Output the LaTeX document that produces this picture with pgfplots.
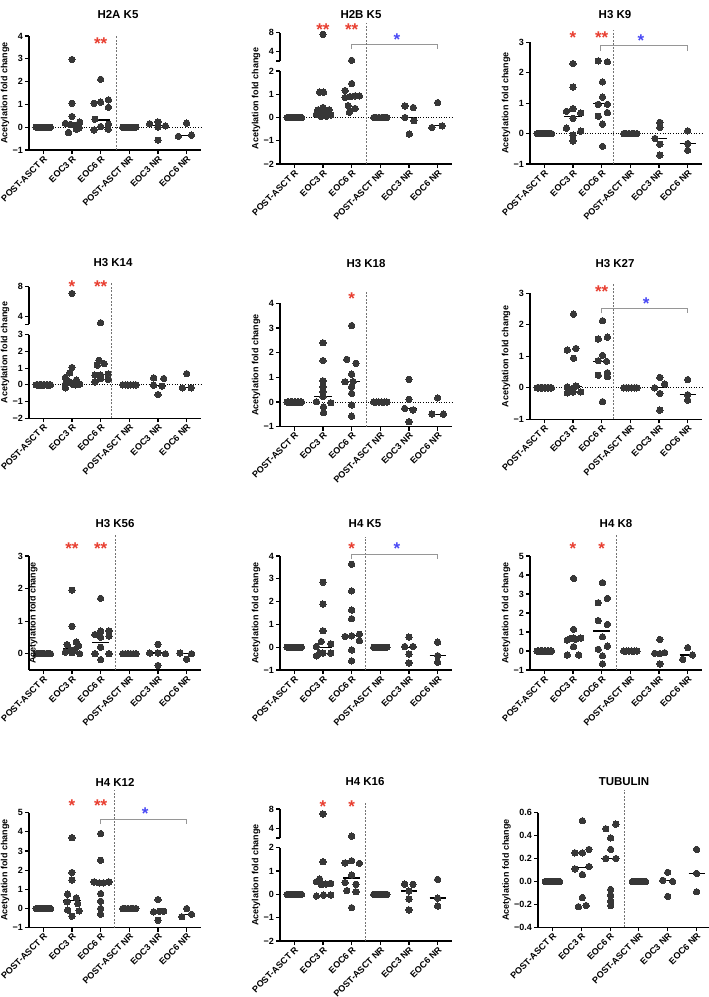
\documentclass[border=0pt]{standalone}
\usepackage{pgfplots}
\pgfplotsset{compat=1.18}
\usepackage{fontspec}
\setmainfont{Liberation Sans}
\definecolor{dotc}{RGB}{55,55,55}
\definecolor{sred}{RGB}{232,62,48}
\definecolor{sblue}{RGB}{72,72,245}
\definecolor{brk}{RGB}{150,150,150}
\newcommand{\fs}[1]{\fontsize{#1}{#1}\selectfont}
\tikzset{
  rs/.style={text=sred, font=\bfseries\fs{17}, inner sep=0pt, yshift=-4pt},
  bs/.style={text=sblue, font=\bfseries\fs{17}, inner sep=0pt, yshift=-4pt},
}
\pgfplotsset{
  panel/.style={
    scale only axis, width=172pt, xmin=-0.5, xmax=5.5, clip=false,
    axis lines=left, axis line style={-, line width=1.2pt},
    tick align=outside, major tick length=4pt,
    tick style={black, line width=1.1pt},
    xtick={0,1,2,3,4,5},
    xticklabels={POST-ASCT R,EOC3 R,EOC6 R,POST-ASCT NR,EOC3 NR,EOC6 NR},
    xticklabel style={rotate=45, anchor=north east, font=\bfseries\fs{9}, inner sep=0.5pt},
    yticklabel style={font=\bfseries\fs{9}, inner sep=2pt},
    ylabel={Acetylation fold change},
    ylabel style={font=\bfseries\fs{9}, inner sep=1pt},
  },
  toppanel/.style={
    scale only axis, width=172pt, xmin=-0.5, xmax=5.5, clip=false,
    hide x axis, axis y line=left, axis line style={-, line width=1.2pt},
    tick align=outside, major tick length=4pt, tick style={black, line width=1.1pt},
    yticklabel style={font=\bfseries\fs{9}, inner sep=2pt},
    extra y tick labels={},
  },
  dots/.style={only marks, mark=*, mark size=3.2pt, mark options={fill=dotc, draw=dotc, line width=0pt}},
  med/.style={black, line width=1.2pt, no marks},
  zl/.style={black, line width=0.8pt, dash pattern=on 1pt off 1.6pt, no marks},
  vl/.style={gray!90!black, line width=0.7pt, dash pattern=on 2pt off 1.5pt, no marks},
  brack/.style={brk, line width=1pt, no marks},
}
\newcommand{\postR}{\addplot[dots] coordinates {(-0.25,0)(-0.2,0)(-0.15,0)(-0.1,0)(-0.05,0)(0,0)(0.05,0)(0.1,0)(0.15,0)(0.2,0)(0.25,0)};}
\newcommand{\postNR}{\addplot[dots] coordinates {(2.77,0)(2.86,0)(2.95,0)(3.05,0)(3.14,0)(3.23,0)};}
\begin{document}
\begin{tikzpicture}
\useasboundingbox (0,0) rectangle (709pt,-997pt);
% titles
\begin{scope}[every node/.style={font=\bfseries\fs{11.5}}]
\node at (118pt,-15pt) {H2A K5};
\node at (361pt,-15pt) {H2B K5};
\node at (615pt,-15pt) {H3 K9};
\node at (113pt,-263pt) {H3 K14};
\node at (366pt,-264pt) {H3 K18};
\node at (615pt,-264pt) {H3 K27};
\node at (115pt,-524pt) {H3 K56};
\node at (365pt,-524pt) {H4 K5};
\node at (616pt,-524pt) {H4 K8};
\node at (115pt,-782pt) {H4 K12};
\node at (365pt,-782pt) {H4 K16};
\node at (624pt,-782pt) {TUBULIN};
\end{scope}

% ---------- P1 H2A K5
\begin{axis}[panel, at={(29pt,-150pt)}, anchor=south west, height=114pt, ymin=-1, ymax=4,
  ytick={-1,0,1,2,3,4}, yticklabels={−1,0,1,2,3,4}]
\addplot[zl] coordinates {(-0.5,0)(5.5,0)};
\addplot[vl] coordinates {(2.56,-1)(2.56,4.05)};
\postR \postNR
\addplot[dots] coordinates {(1,2.97)(1,1.05)(1,0.47)(0.77,0.17)(1.27,0.22)(0.95,0.12)(1.1,0.08)(0.88,-0.23)(1.15,-0.09)(1.25,-0.03)};
\addplot[dots] coordinates {(2,2.1)(1.77,1.05)(2,1.1)(2.27,1.2)(2.27,0.87)(1.8,0.35)(2.27,0.13)(2,0.03)(2.26,-0.09)(1.77,-0.12)};
\addplot[dots] coordinates {(3.71,0.15)(4,0.23)(4.26,0.06)(4,0.0)(4,-0.57)};
\addplot[dots] coordinates {(5,0.18)(4.71,-0.4)(5.17,-0.35)};
\addplot[med] coordinates {(0.7,0.13)(1.32,0.13)};
\addplot[med] coordinates {(1.7,0.32)(2.32,0.32)};
\addplot[med] coordinates {(3.72,0.06)(4.28,0.06)};
\addplot[med] coordinates {(4.72,-0.35)(5.28,-0.35)};
\node[rs] at (axis cs:2,3.85) {**};
\end{axis}

% ---------- P2 H2B K5
\begin{axis}[toppanel, at={(280pt,-61pt)}, anchor=south west, height=28.3pt, ymin=2, ymax=8,
  ytick={4,8}, yticklabels={4,8}, extra y ticks={2}]
\addplot[dots] coordinates {(1,7.65)};
\addplot[dots] coordinates {(2,2.15)};
\addplot[brack] coordinates {(2,4.5)(2,5.6)(5,5.6)(5,4.5)};
\node[rs] at (axis cs:1,9.6) {**};
\node[rs] at (axis cs:2,9.6) {**};
\node[bs] at (axis cs:3.58,7.37) {*};
\end{axis}
\begin{axis}[panel, at={(280pt,-164pt)}, anchor=south west, height=93pt, ymin=-2, ymax=2,
  ytick={-2,-1,0,1,2}, yticklabels={−2,−1,0,1,2}, ylabel style={at={(ticklabel cs:0.704)}}]
\addplot[zl] coordinates {(-0.5,0)(5.5,0)};
\addplot[vl] coordinates {(2.5,-2)(2.5,4.06)};
\postR \postNR
\addplot[dots] coordinates {(0.88,1.09)(1.02,1.09)(1,0.43)(0.83,0.33)(1.21,0.33)(0.77,0.14)(1.27,0.11)(0.93,0.05)(1.12,0.06)(1.05,0.3)};
\addplot[dots] coordinates {(2,1.46)(1.77,1.16)(1.77,0.86)(1.95,0.9)(2.12,0.93)(2.27,0.93)(1.88,0.51)(2.12,0.39)(1.92,0.23)};
\addplot[dots] coordinates {(3.86,0.5)(4.15,0.43)(3.86,0.0)(4.17,-0.14)(4.01,-0.71)};
\addplot[dots] coordinates {(5,0.64)(4.8,-0.43)(5.16,-0.36)};
\addplot[med] coordinates {(0.7,0.3)(1.3,0.3)};
\addplot[med] coordinates {(1.7,0.9)(2.3,0.9)};
\addplot[med] coordinates {(3.72,0)(4.28,0)};
\addplot[med] coordinates {(4.72,-0.36)(5.28,-0.36)};
\end{axis}

% ---------- P3 H3 K9
\begin{axis}[panel, at={(530pt,-164pt)}, anchor=south west, height=121.7pt, ymin=-1, ymax=3,
  ytick={-1,0,1,2,3}, yticklabels={−1,0,1,2,3}]
\addplot[zl] coordinates {(-0.5,0)(5.5,0)};
\addplot[vl] coordinates {(2.42,-1)(2.42,3.42)};
\postR \postNR
\addplot[dots] coordinates {(1,2.3)(1,1.53)(0.77,0.73)(1,0.82)(1.27,0.68)(1,0.5)(0.77,0.18)(1.27,0.08)(1,-0.05)(1,-0.24)};
\addplot[dots] coordinates {(1.88,2.39)(2.2,2.36)(2.03,1.7)(2.03,1.2)(1.88,0.96)(2.2,0.96)(2.2,0.69)(1.88,0.57)(2.03,0.31)(2.03,-0.42)};
\addplot[dots] coordinates {(4.03,0.37)(4.03,0.2)(3.86,-0.16)(4.03,-0.35)(4.03,-0.71)};
\addplot[dots] coordinates {(5,0.09)(5,-0.33)(5,-0.55)};
\addplot[med] coordinates {(0.7,0.57)(1.32,0.57)};
\addplot[med] coordinates {(1.7,0.98)(2.32,0.98)};
\addplot[med] coordinates {(3.72,-0.16)(4.28,-0.16)};
\addplot[med] coordinates {(4.72,-0.33)(5.28,-0.33)};
\addplot[brack] coordinates {(1.95,2.72)(1.95,2.88)(4.98,2.88)(4.98,2.72)};
\node[rs] at (axis cs:1,3.29) {*};
\node[rs] at (axis cs:2,3.29) {**};
\node[bs] at (axis cs:3.37,3.18) {*};
\end{axis}

% ---------- P4 H3 K14
\begin{axis}[toppanel, at={(29pt,-324.2pt)}, anchor=south west, height=37.5pt, ymin=3, ymax=8,
  ytick={4,8}, yticklabels={4,8}, extra y ticks={3}]
\addplot[dots] coordinates {(1,7.1)};
\addplot[dots] coordinates {(2,3.2)};
\node[rs] at (axis cs:1,8.58) {*};
\node[rs] at (axis cs:2,8.58) {**};
\end{axis}
\begin{axis}[panel, at={(29pt,-418.3pt)}, anchor=south west, height=83.6pt, ymin=-2, ymax=3,
  ytick={-2,-1,0,1,2,3}, yticklabels={−2,−1,0,1,2,3}, ylabel style={at={(ticklabel cs:0.787)}}]
\addplot[zl] coordinates {(-0.5,0)(5.5,0)};
\addplot[vl] coordinates {(2.36,-2)(2.36,6.11)};
\postR \postNR
\addplot[dots] coordinates {(1,1.04)(0.92,0.72)(0.77,0.44)(1.15,0.28)(0.92,0.18)(0.77,0.04)(0.77,-0.18)(1.05,0.02)(1.27,0.04)(1.12,0.0)};
\addplot[dots] coordinates {(1.94,1.47)(2.12,1.27)(1.88,1.18)(1.8,0.58)(2,0.58)(2.26,0.64)(1.8,0.18)(2,0.38)(2.26,0.32)};
\addplot[dots] coordinates {(3.85,0.42)(4.2,0.38)(3.85,-0.02)(4.14,-0.08)(4,-0.58)};
\addplot[dots] coordinates {(5,0.67)(4.85,-0.18)(5.16,-0.18)};
\addplot[med] coordinates {(0.7,0.18)(1.3,0.18)};
\addplot[med] coordinates {(1.7,0.64)(2.3,0.64)};
\addplot[med] coordinates {(3.72,-0.02)(4.28,-0.02)};
\addplot[med] coordinates {(4.72,-0.18)(5.28,-0.18)};
\end{axis}

% ---------- P5 H3 K18
\begin{axis}[panel, at={(280pt,-426.7pt)}, anchor=south west, height=123.4pt, ymin=-1, ymax=4,
  ytick={-1,0,1,2,3,4}, yticklabels={−1,0,1,2,3,4}]
\addplot[zl] coordinates {(-0.5,0)(5.5,0)};
\addplot[vl] coordinates {(2.5,-1)(2.5,4.5)};
\postR \postNR
\addplot[dots] coordinates {(1,2.4)(1,1.68)(1,0.86)(1,0.62)(1,0.42)(1,0.22)(0.77,0.01)(1.27,-0.03)(1.02,-0.2)(1.02,-0.43)};
\addplot[dots] coordinates {(2,3.1)(1.83,1.73)(2.15,1.57)(2,1.13)(1.77,0.82)(2.05,0.83)(2,0.62)(2,0.35)(2,-0.12)(2,-0.57)};
\addplot[dots] coordinates {(4,0.92)(4,0.11)(3.85,-0.26)(4.14,-0.32)(4,-0.8)};
\addplot[dots] coordinates {(5,0.17)(4.8,-0.49)(5.2,-0.49)};
\addplot[med] coordinates {(0.7,0.24)(1.3,0.24)};
\addplot[med] coordinates {(1.7,0.82)(2.3,0.82)};
\addplot[med] coordinates {(3.72,-0.26)(4.28,-0.26)};
\addplot[med] coordinates {(4.72,-0.49)(5.28,-0.49)};
\node[rs] at (axis cs:2,4.36) {*};
\end{axis}

% ---------- P6 H3 K27
\begin{axis}[panel, at={(530pt,-419.3pt)}, anchor=south west, height=126pt, ymin=-1, ymax=3,
  ytick={-1,0,1,2,3}, yticklabels={−1,0,1,2,3}]
\addplot[zl] coordinates {(-0.5,0)(5.5,0)};
\addplot[vl] coordinates {(2.42,-1)(2.42,3.31)};
\postR \postNR
\addplot[dots] coordinates {(1.02,2.34)(0.8,1.2)(1.1,1.25)(1.02,0.94)(0.8,0.03)(1.1,0.06)(0.8,-0.16)(1,-0.13)(1.27,-0.13)(1.02,0.0)};
\addplot[dots] coordinates {(2.03,2.13)(1.88,1.55)(2.2,1.61)(2.03,1.03)(1.88,0.86)(2.17,0.84)(1.88,0.4)(2.2,0.48)(2.2,0.35)(2.03,-0.44)};
\addplot[dots] coordinates {(4.03,0.33)(4.2,0.12)(3.85,0.0)(4.03,-0.18)(4.03,-0.71)};
\addplot[dots] coordinates {(5,0.26)(5,-0.22)(5,-0.39)};
\addplot[med] coordinates {(0.7,0.03)(1.3,0.03)};
\addplot[med] coordinates {(1.7,0.84)(2.3,0.84)};
\addplot[med] coordinates {(3.72,0)(4.28,0)};
\addplot[med] coordinates {(4.72,-0.22)(5.28,-0.22)};
\addplot[brack] coordinates {(2,2.36)(2,2.52)(5,2.52)(5,2.36)};
\node[rs] at (axis cs:2,3.17) {**};
\node[bs] at (axis cs:3.55,2.8) {*};
\end{axis}

% ---------- P7 H3 K56
\begin{axis}[panel, at={(29pt,-670pt)}, anchor=south west, height=114pt, ymin=-0.5, ymax=3,
  ytick={0,1,2,3}, yticklabels={0,1,2,3}, ylabel style={at={(axis description cs:0.025,0.5)}, anchor=center}]
\addplot[vl] coordinates {(2.5,-0.5)(2.5,3.65)};
\postR \postNR
\addplot[dots] coordinates {(1,1.95)(1,0.84)(1.15,0.36)(0.83,0.28)(1.23,0.24)(0.95,0.12)(0.77,0.05)(1.27,0.0)(1.08,0.12)(1,0.03)};
\addplot[dots] coordinates {(2,1.7)(1.8,0.59)(2,0.7)(2.29,0.7)(2,0.51)(2.29,0.54)(1.8,0.0)(2.29,0.0)(2,-0.18)(2,0.2)};
\addplot[dots] coordinates {(4,0.29)(3.71,0.02)(4,0.02)(4.26,0.0)(4,-0.36)};
\addplot[dots] coordinates {(4.77,0.02)(5.17,0.0)(5,-0.17)};
\addplot[med] coordinates {(0.7,0.15)(1.3,0.15)};
\addplot[med] coordinates {(1.7,0.34)(2.3,0.34)};
\addplot[med] coordinates {(3.72,0.02)(4.28,0.02)};
\addplot[med] coordinates {(4.72,0)(5.28,0)};
\node[rs] at (axis cs:1,3.36) {**};
\node[rs] at (axis cs:2,3.36) {**};
\end{axis}

% ---------- P8 H4 K5
\begin{axis}[panel, at={(280pt,-670pt)}, anchor=south west, height=114pt, ymin=-1, ymax=4,
  ytick={-1,0,1,2,3,4}, yticklabels={−1,0,1,2,3,4}]
\addplot[vl] coordinates {(2.48,-1)(2.48,4.85)};
\postR \postNR
\addplot[dots] coordinates {(1,2.85)(1,1.89)(1,0.72)(0.94,0.25)(1.27,0.15)(0.77,0.03)(0.77,-0.38)(1,-0.26)(1.27,-0.26)(0.88,-0.26)};
\addplot[dots] coordinates {(2,3.64)(2,2.47)(2,1.63)(2,1.25)(1.77,0.47)(2.27,0.57)(2.27,0.29)(2,-0.12)(2,-0.6)(2,0.5)};
\addplot[dots] coordinates {(4,0.44)(3.85,0.03)(4.14,0.03)(4,-0.3)(4,-0.69)};
\addplot[dots] coordinates {(5,0.22)(5,-0.37)(5,-0.66)};
\addplot[med] coordinates {(0.7,-0.01)(1.3,-0.01)};
\addplot[med] coordinates {(1.7,0.5)(2.3,0.5)};
\addplot[med] coordinates {(3.72,0)(4.28,0)};
\addplot[med] coordinates {(4.72,-0.37)(5.28,-0.37)};
\addplot[brack] coordinates {(2,3.86)(2,4.08)(5,4.08)(5,3.86)};
\node[rs] at (axis cs:2,4.52) {*};
\node[bs] at (axis cs:3.58,4.49) {*};
\end{axis}

% ---------- P9 H4 K8
\begin{axis}[panel, at={(530pt,-670pt)}, anchor=south west, height=114pt, ymin=-1, ymax=5,
  ytick={-1,0,1,2,3,4,5}, yticklabels={−1,0,1,2,3,4,5}]
\addplot[vl] coordinates {(2.5,-1)(2.5,6.1)};
\postR \postNR
\addplot[dots] coordinates {(1.02,3.82)(1.02,1.14)(0.8,0.58)(1.02,0.68)(1.27,0.68)(1.1,0.62)(1.02,0.23)(0.8,-0.21)(1.2,-0.21)(0.9,0.65)};
\addplot[dots] coordinates {(2.03,3.6)(1.88,2.54)(2.2,2.77)(1.88,1.6)(2.2,1.4)(2.03,0.75)(1.88,0.09)(2.2,0.26)(2.03,-0.25)(2.03,-0.68)};
\addplot[dots] coordinates {(4.03,0.61)(3.85,-0.12)(4.2,-0.09)(4.03,-0.14)(4.03,-0.68)};
\addplot[dots] coordinates {(5,0.18)(4.83,-0.44)(5.17,-0.21)};
\addplot[med] coordinates {(0.7,0.67)(1.3,0.67)};
\addplot[med] coordinates {(1.7,1.05)(2.3,1.05)};
\addplot[med] coordinates {(3.72,-0.12)(4.28,-0.12)};
\addplot[med] coordinates {(4.72,-0.21)(5.28,-0.21)};
\node[rs] at (axis cs:1,5.6) {*};
\node[rs] at (axis cs:2,5.6) {*};
\end{axis}

% ---------- P10 H4 K12
\begin{axis}[panel, at={(29pt,-927.7pt)}, anchor=south west, height=115pt, ymin=-1, ymax=5,
  ytick={-1,0,1,2,3,4,5}, yticklabels={−1,0,1,2,3,4,5}]
\addplot[vl] coordinates {(2.48,-1)(2.48,6.17)};
\postR \postNR
\addplot[dots] coordinates {(1,3.7)(1,1.88)(1,1.48)(0.85,0.75)(1.15,0.56)(0.83,0.35)(1.2,0.26)(0.85,-0.08)(1,-0.4)(1.25,-0.12)};
\addplot[dots] coordinates {(2,3.91)(2,2.52)(1.77,1.39)(1.95,1.34)(2.1,1.34)(2.29,1.39)(2,0.78)(2,0.38)(2,0.0)(2,-0.3)};
\addplot[dots] coordinates {(4,0.47)(3.85,-0.17)(4.2,-0.14)(4,-0.61)(4.05,-0.14)};
\addplot[dots] coordinates {(5,0.0)(4.83,-0.43)(5.17,-0.3)};
\addplot[med] coordinates {(0.7,0.43)(1.3,0.43)};
\addplot[med] coordinates {(1.7,1.39)(2.3,1.39)};
\addplot[med] coordinates {(3.72,-0.14)(4.28,-0.14)};
\addplot[med] coordinates {(4.72,-0.33)(5.28,-0.33)};
\addplot[brack] coordinates {(2,4.4)(2,4.66)(5,4.66)(5,4.4)};
\node[rs] at (axis cs:1,5.57) {*};
\node[rs] at (axis cs:2,5.57) {**};
\node[bs] at (axis cs:3.55,5.17) {*};
\end{axis}

% ---------- P11 H4 K16
\begin{axis}[toppanel, at={(280pt,-838pt)}, anchor=south west, height=29pt, ymin=2, ymax=8,
  ytick={4,8}, yticklabels={4,8}, extra y ticks={2}]
\addplot[dots] coordinates {(1,6.97)};
\addplot[dots] coordinates {(2,2.4)};
\node[rs] at (axis cs:1,9.38) {*};
\node[rs] at (axis cs:2,9.38) {*};
\end{axis}
\begin{axis}[panel, at={(280pt,-941pt)}, anchor=south west, height=93.3pt, ymin=-2, ymax=2,
  ytick={-2,-1,0,1,2}, yticklabels={−2,−1,0,1,2}, ylabel style={at={(ticklabel cs:0.707)}}]
\addplot[vl] coordinates {(2.48,-2)(2.48,3.92)};
\postR \postNR
\addplot[dots] coordinates {(1,1.4)(0.88,0.66)(0.77,0.54)(1.27,0.47)(1.1,0.44)(0.95,0.42)(0.77,-0.07)(1.02,-0.03)(1.27,-0.03)};
\addplot[dots] coordinates {(2,1.44)(1.77,1.35)(2.27,1.33)(2,0.83)(1.77,0.51)(2.15,0.43)(1.83,0.16)(2.15,0.11)(2,-0.57)};
\addplot[dots] coordinates {(3.85,0.44)(4.14,0.43)(4,0.14)(4,-0.2)(4,-0.67)};
\addplot[dots] coordinates {(5,0.64)(5,-0.16)(5,-0.5)};
\addplot[med] coordinates {(0.7,0.44)(1.3,0.44)};
\addplot[med] coordinates {(1.7,0.7)(2.3,0.7)};
\addplot[med] coordinates {(3.72,0.14)(4.28,0.14)};
\addplot[med] coordinates {(4.72,-0.16)(5.28,-0.16)};
\end{axis}

% ---------- P12 TUBULIN
\begin{axis}[panel, at={(538pt,-927.3pt)}, anchor=south west, height=114.6pt, width=173pt, ymin=-0.4, ymax=0.6,
  ytick={-0.4,-0.2,0,0.2,0.4,0.6}, yticklabels={−0.4,−0.2,0.0,0.2,0.4,0.6}]
\addplot[vl] coordinates {(2.5,-0.4)(2.5,0.8)};
\postR \postNR
\addplot[dots] coordinates {(1.04,0.53)(0.78,0.25)(1.04,0.25)(1.27,0.28)(1.27,0.13)(0.78,0.11)(1.04,0.06)(1.04,-0.14)(0.9,-0.22)(1.17,-0.21)};
\addplot[dots] coordinates {(1.85,0.46)(2.2,0.5)(2.02,0.38)(2.02,0.28)(1.85,0.2)(2.2,0.2)(2.02,-0.07)(2.02,-0.12)(2.02,-0.17)(2.02,-0.21)};
\addplot[dots] coordinates {(4,0.08)(3.83,0.01)(4.17,0.0)(4,-0.13)};
\addplot[dots] coordinates {(5,0.28)(5,0.07)(5,-0.09)};
\addplot[med] coordinates {(0.7,0.12)(1.3,0.12)};
\addplot[med] coordinates {(1.7,0.2)(2.3,0.2)};
\addplot[med] coordinates {(3.72,0.01)(4.28,0.01)};
\addplot[med] coordinates {(4.72,0.07)(5.28,0.07)};
\end{axis}
\end{tikzpicture}
\end{document}
